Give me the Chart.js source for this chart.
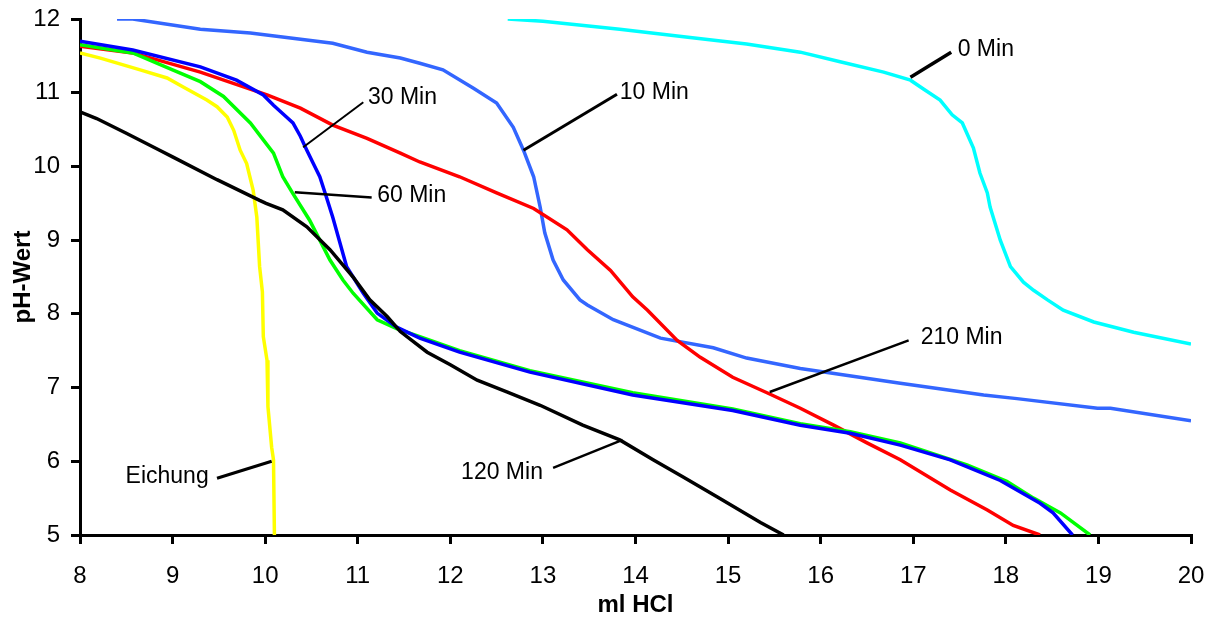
<!DOCTYPE html>
<html>
<head>
<meta charset="utf-8">
<script src="https://cdn.jsdelivr.net/npm/chart.js@4/dist/chart.umd.min.js"></script>
<style>
  body { margin: 0; background: #fff; }
  canvas { display: block; }
</style>
</head>
<body>
<canvas id="chart" width="1211" height="617"></canvas>
<script>
// Titrationskurven (pH gegen ml HCl)
const min0X = [12.62, 13.0, 13.83, 14.59, 15.2, 15.78, 16.21, 16.68, 16.97, 17.11, 17.29, 17.42, 17.53, 17.65, 17.72, 17.80, 17.83, 17.94, 18.05, 18.19, 18.30, 18.45, 18.62, 18.95, 19.38, 20.0];
const min0Y = [12.0, 11.97, 11.86, 11.75, 11.66, 11.55, 11.42, 11.28, 11.17, 11.05, 10.9, 10.70, 10.59, 10.25, 9.91, 9.64, 9.45, 9.0, 8.64, 8.43, 8.32, 8.19, 8.05, 7.89, 7.75, 7.59];

const min10X = [8.4, 8.57, 9.30, 9.84, 10.73, 11.10, 11.46, 11.67, 11.92, 12.25, 12.5, 12.68, 12.79, 12.90, 12.97, 13.02, 13.11, 13.22, 13.40, 13.48, 13.76, 14.27, 14.84, 15.20, 15.78, 16.86, 17.76, 18.12, 18.99, 19.13, 20.0];
const min10Y = [12.0, 12.0, 11.86, 11.81, 11.67, 11.55, 11.47, 11.40, 11.31, 11.06, 10.86, 10.53, 10.22, 9.86, 9.45, 9.1, 8.73, 8.46, 8.19, 8.12, 7.92, 7.67, 7.54, 7.40, 7.26, 7.06, 6.90, 6.85, 6.72, 6.72, 6.55];

const min30X = [8.0, 8.57, 9.30, 9.69, 9.98, 10.09, 10.23, 10.30, 10.38, 10.45, 10.52, 10.59, 10.65, 10.73, 10.88, 11.06, 11.21, 11.42, 11.67, 12.1, 12.86, 13.97, 15.05, 15.78, 16.32, 16.86, 17.40, 17.94, 18.37, 18.51, 18.72];
const min30Y = [11.70, 11.58, 11.35, 11.17, 10.97, 10.83, 10.67, 10.59, 10.41, 10.22, 10.04, 9.86, 9.63, 9.31, 8.64, 8.28, 8.01, 7.82, 7.67, 7.48, 7.21, 6.90, 6.69, 6.49, 6.38, 6.22, 6.02, 5.74, 5.43, 5.30, 5.0];

const min60X = [8.0, 8.57, 9.0, 9.30, 9.55, 9.84, 9.98, 10.09, 10.19, 10.30, 10.48, 10.59, 10.70, 10.84, 10.95, 11.21, 11.42, 11.67, 12.1, 12.86, 13.97, 15.05, 15.78, 16.32, 16.86, 17.58, 18.01, 18.30, 18.59, 18.91];
const min60Y = [11.65, 11.54, 11.31, 11.15, 10.95, 10.59, 10.36, 10.18, 9.86, 9.63, 9.27, 9.0, 8.73, 8.46, 8.28, 7.92, 7.80, 7.69, 7.50, 7.23, 6.93, 6.71, 6.51, 6.40, 6.25, 5.95, 5.73, 5.50, 5.30, 5.0];

const min120X = [8.0, 8.18, 8.5, 8.86, 9.0, 9.48, 9.94, 10.01, 10.19, 10.45, 10.70, 10.95, 11.13, 11.32, 11.46, 11.75, 12.0, 12.29, 12.61, 12.97, 13.43, 13.83, 14.19, 14.51, 14.88, 15.35, 15.60];
const min120Y = [10.74, 10.65, 10.45, 10.22, 10.13, 9.82, 9.54, 9.50, 9.41, 9.18, 8.87, 8.50, 8.19, 7.96, 7.76, 7.48, 7.31, 7.10, 6.94, 6.76, 6.49, 6.29, 6.02, 5.79, 5.52, 5.17, 5.0];

const min210X = [8.0, 8.57, 9.30, 10.02, 10.38, 10.73, 11.10, 11.46, 11.67, 12.1, 12.50, 12.9, 13.26, 13.48, 13.73, 13.97, 14.13, 14.45, 14.70, 15.05, 15.42, 15.78, 16.14, 16.50, 16.86, 17.40, 17.80, 18.08, 18.37];
const min210Y = [11.63, 11.54, 11.28, 10.97, 10.79, 10.56, 10.38, 10.18, 10.06, 9.86, 9.64, 9.43, 9.14, 8.87, 8.59, 8.23, 8.05, 7.64, 7.41, 7.14, 6.93, 6.72, 6.49, 6.25, 6.02, 5.61, 5.34, 5.13, 5.0];

const eichX = [8.0, 8.22, 8.65, 8.94, 9.11, 9.37, 9.48, 9.59, 9.66, 9.73, 9.80, 9.87, 9.91, 9.94, 9.97, 9.98, 10.02, 10.03, 10.07, 10.09, 10.1];
const eichY = [11.54, 11.47, 11.31, 11.20, 11.08, 10.90, 10.81, 10.67, 10.49, 10.22, 10.04, 9.68, 9.31, 8.64, 8.30, 7.69, 7.37, 6.74, 6.19, 6.02, 5.0];

const xTicks = [8, 9, 10, 11, 12, 13, 14, 15, 16, 17, 18, 19, 20];
const yTicks = [5, 6, 7, 8, 9, 10, 11, 12];

// Beschriftungen mit Hinweislinien (Kurvenpunkt -> Linienende -> Text)
const labelTexts = ["0 Min", "10 Min", "30 Min", "60 Min", "210 Min", "120 Min", "Eichung"];
const lineFromX = [16.97, 12.79, 10.41, 10.32, 15.45, 13.86, 10.07];
const lineFromY = [11.21, 10.22, 10.26, 9.65, 6.94, 6.29, 6.0];
const lineToX = [17.41, 13.80, 11.06, 11.15, 16.95, 13.11, 9.48];
const lineToY = [11.55, 10.98, 10.87, 9.58, 7.64, 5.91, 5.77];
const textX = [17.48, 13.83, 11.11, 11.21, 17.08, 13.0, 9.39];
const textY = [11.59, 11.0, 10.93, 9.60, 7.68, 5.85, 5.79];
const textSide = ["left", "left", "left", "left", "left", "right", "right"];

const FONT = "'Liberation Sans', Arial, sans-serif";
const lineWidths = [3.5, 3, 2, 2.5, 2.5, 2.5, 3];

function pts(xs, ys) {
  return xs.map((x, i) => ({ x: x, y: ys[i] }));
}

function serie(label, xs, ys, color) {
  return {
    label: label,
    data: pts(xs, ys),
    borderColor: color,
    backgroundColor: color,
    borderWidth: 3.5,
    pointRadius: 0,
    showLine: true,
    tension: 0,
    fill: false
  };
}

// Randueberstand der Achsenbeschriftungen nicht in das Layout einrechnen
function noOverhang(s) {
  s.paddingTop = 0;
  s.paddingBottom = 0;
  s.paddingLeft = 0;
  s.paddingRight = 0;
}

const annotations = {
  id: "annotations",
  afterDatasetsDraw(chart) {
    const { ctx, scales: { x, y } } = chart;
    ctx.save();
    ctx.strokeStyle = "#000";
    ctx.lineCap = "butt";
    labelTexts.forEach((t, i) => {
      ctx.lineWidth = lineWidths[i];
      ctx.beginPath();
      ctx.moveTo(x.getPixelForValue(lineFromX[i]), y.getPixelForValue(lineFromY[i]));
      ctx.lineTo(x.getPixelForValue(lineToX[i]), y.getPixelForValue(lineToY[i]));
      ctx.stroke();
      ctx.fillStyle = "#000";
      ctx.font = "23px " + FONT;
      ctx.textAlign = textSide[i];
      ctx.textBaseline = "middle";
      ctx.fillText(t, x.getPixelForValue(textX[i]), y.getPixelForValue(textY[i]));
    });
    ctx.restore();
  }
};

new Chart(document.getElementById("chart"), {
  type: "scatter",
  data: {
    datasets: [
      serie("120 Min", min120X, min120Y, "#000000"),
      serie("30 Min", min30X, min30Y, "#0000FF"),
      serie("60 Min", min60X, min60Y, "#00FF00"),
      serie("210 Min", min210X, min210Y, "#FF0000"),
      serie("Eichung", eichX, eichY, "#FFFF00"),
      serie("10 Min", min10X, min10Y, "#3366FF"),
      serie("0 Min", min0X, min0Y, "#00FFFF")
    ]
  },
  options: {
    responsive: false,
    animation: false,
    devicePixelRatio: 1,
    layout: { padding: { top: 19, right: 20, left: 0, bottom: 0 } },
    plugins: { legend: { display: false }, tooltip: { enabled: false } },
    scales: {
      x: {
        type: "linear",
        min: 8,
        max: 20,
        afterBuildTicks: s => { s.ticks = xTicks.map(v => ({ value: v })); },
        afterFit: s => { s.height = 82; noOverhang(s); },
        ticks: { color: "#000", font: { family: FONT, size: 24 }, padding: 18 },
        grid: { drawOnChartArea: false, drawTicks: true, tickLength: 9, color: "#000", lineWidth: 3 },
        border: { color: "#000", width: 3 },
        title: { display: true, text: "ml HCl", color: "#000", font: { family: FONT, size: 24, weight: "bold", lineHeight: 1 }, padding: 0 }
      },
      y: {
        min: 5,
        max: 12,
        afterBuildTicks: s => { s.ticks = yTicks.map(v => ({ value: v })); },
        afterFit: s => { s.width = 80; noOverhang(s); },
        ticks: { color: "#000", font: { family: FONT, size: 24 }, padding: 11 },
        grid: { drawOnChartArea: false, drawTicks: true, tickLength: 9, color: "#000", lineWidth: 3 },
        border: { color: "#000", width: 3 },
        title: { display: true, text: "pH-Wert", color: "#000", font: { family: FONT, size: 24, weight: "bold", lineHeight: 1 }, padding: { top: 11, bottom: 0 } }
      }
    }
  },
  plugins: [annotations]
});
</script>
</body>
</html>
